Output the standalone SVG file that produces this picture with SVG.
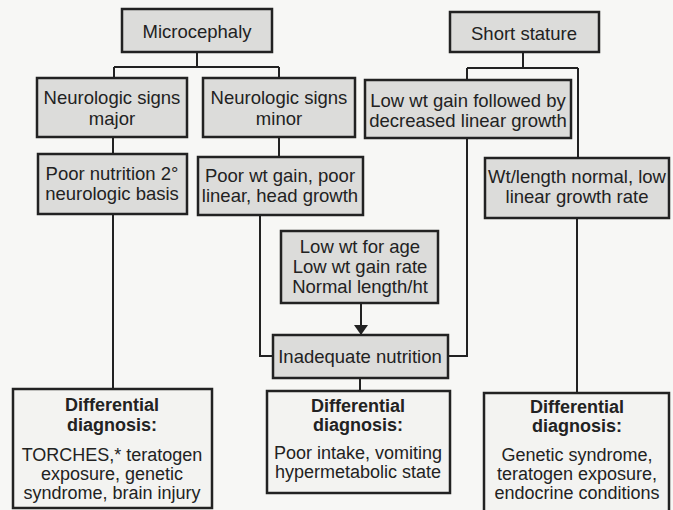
<svg xmlns="http://www.w3.org/2000/svg" width="673" height="510" viewBox="0 0 673 510">
<defs>
<style>
.bg{fill:#f7f7f5}
.box{fill:#dcdcda;stroke:#222;stroke-width:2.5}
.wbox{fill:#f3f3f1;stroke:#222;stroke-width:2.5}
.t{font-family:"Liberation Sans",Arial,sans-serif;font-size:18.5px;fill:#222;text-anchor:middle}
.s{font-family:"Liberation Sans",Arial,sans-serif;font-size:18px;fill:#222;text-anchor:middle}
.b{font-family:"Liberation Sans",Arial,sans-serif;font-size:18px;font-weight:bold;fill:#222;text-anchor:middle}
.c{fill:none;stroke:#222;stroke-width:2}
</style>
<marker id="ah" viewBox="0 0 10 14" refX="10" refY="7" markerWidth="10" markerHeight="14" markerUnits="userSpaceOnUse" orient="auto">
<path d="M0,0 L10,7 L0,14 Z" fill="#222"/>
</marker>
</defs>
<rect class="bg" x="0" y="0" width="673" height="510"/>
<g id="connectors">
<path class="c" d="M197,52 V67 M114,67 H279 M114,67 V78 M279,67 V78"/>
<path class="c" d="M113,137 V154 M113,214 V389"/>
<path class="c" d="M279,137 V157 M260,215 V356 H273"/>
<path class="c" d="M523,52 V68 M467,68 H578 M467,68 V80 M578,68 V158"/>
<path class="c" d="M467,138 V356 H448"/>
<path class="c" d="M577,218 V393"/>
<path class="c" d="M361,303 V335" marker-end="url(#ah)"/>
<path class="c" d="M360,378 V391"/>
</g>
<g id="microcephaly"><rect class="box" x="122" y="9" width="150" height="43"/><text class="t" x="197" y="38">Microcephaly</text></g>
<g id="short-stature"><rect class="box" x="450" y="12" width="149" height="40"/><text class="t" x="524" y="40">Short stature</text></g>
<g id="neuro-major"><rect class="box" x="37" y="78" width="150" height="59"/><text class="t" x="112" y="104">Neurologic signs</text><text class="t" x="112" y="125">major</text></g>
<g id="neuro-minor"><rect class="box" x="203" y="78" width="152" height="59"/><text class="t" x="279" y="104">Neurologic signs</text><text class="t" x="279" y="125">minor</text></g>
<g id="low-wt-gain"><rect class="box" x="365" y="80" width="206" height="58"/><text class="t" x="468" y="107">Low wt gain followed by</text><text class="t" x="468" y="127">decreased linear growth</text></g>
<g id="poor-nutrition"><rect class="box" x="38" y="154" width="149" height="60"/><text class="t" x="112" y="180">Poor nutrition 2°</text><text class="t" x="112" y="200">neurologic basis</text></g>
<g id="poor-wt-gain"><rect class="box" x="198" y="157" width="165" height="58"/><text class="t" x="280" y="182">Poor wt gain, poor</text><text class="t" x="280" y="202">linear, head growth</text></g>
<g id="wt-length"><rect class="box" x="485" y="158" width="184" height="60"/><text class="t" x="577" y="183">Wt/length normal, low</text><text class="t" x="577" y="203">linear growth rate</text></g>
<g id="low-wt-age"><rect class="box" x="281" y="231" width="157" height="72"/><text class="t" x="360" y="253">Low wt for age</text><text class="t" x="360" y="273">Low wt gain rate</text><text class="t" x="360" y="293">Normal length/ht</text></g>
<g id="inadequate"><rect class="box" x="273" y="335" width="175" height="43"/><text class="t" x="360" y="363">Inadequate nutrition</text></g>
<g id="dd-left"><rect class="wbox" x="13" y="389" width="199" height="119"/><text class="b" x="112" y="411">Differential</text><text class="b" x="112" y="431">diagnosis:</text><text class="s" x="112" y="461">TORCHES,* teratogen</text><text class="s" x="112" y="480">exposure, genetic</text><text class="s" x="112" y="499">syndrome, brain injury</text></g>
<g id="dd-middle"><rect class="wbox" x="267" y="391" width="183" height="102"/><text class="b" x="358" y="412">Differential</text><text class="b" x="358" y="431">diagnosis:</text><text class="s" x="358" y="459">Poor intake, vomiting</text><text class="s" x="358" y="478">hypermetabolic state</text></g>
<g id="dd-right"><rect class="wbox" x="484" y="393" width="185" height="120"/><text class="b" x="577" y="413">Differential</text><text class="b" x="577" y="432">diagnosis:</text><text class="s" x="577" y="461">Genetic syndrome,</text><text class="s" x="577" y="480">teratogen exposure,</text><text class="s" x="577" y="499">endocrine conditions</text></g>
</svg>
